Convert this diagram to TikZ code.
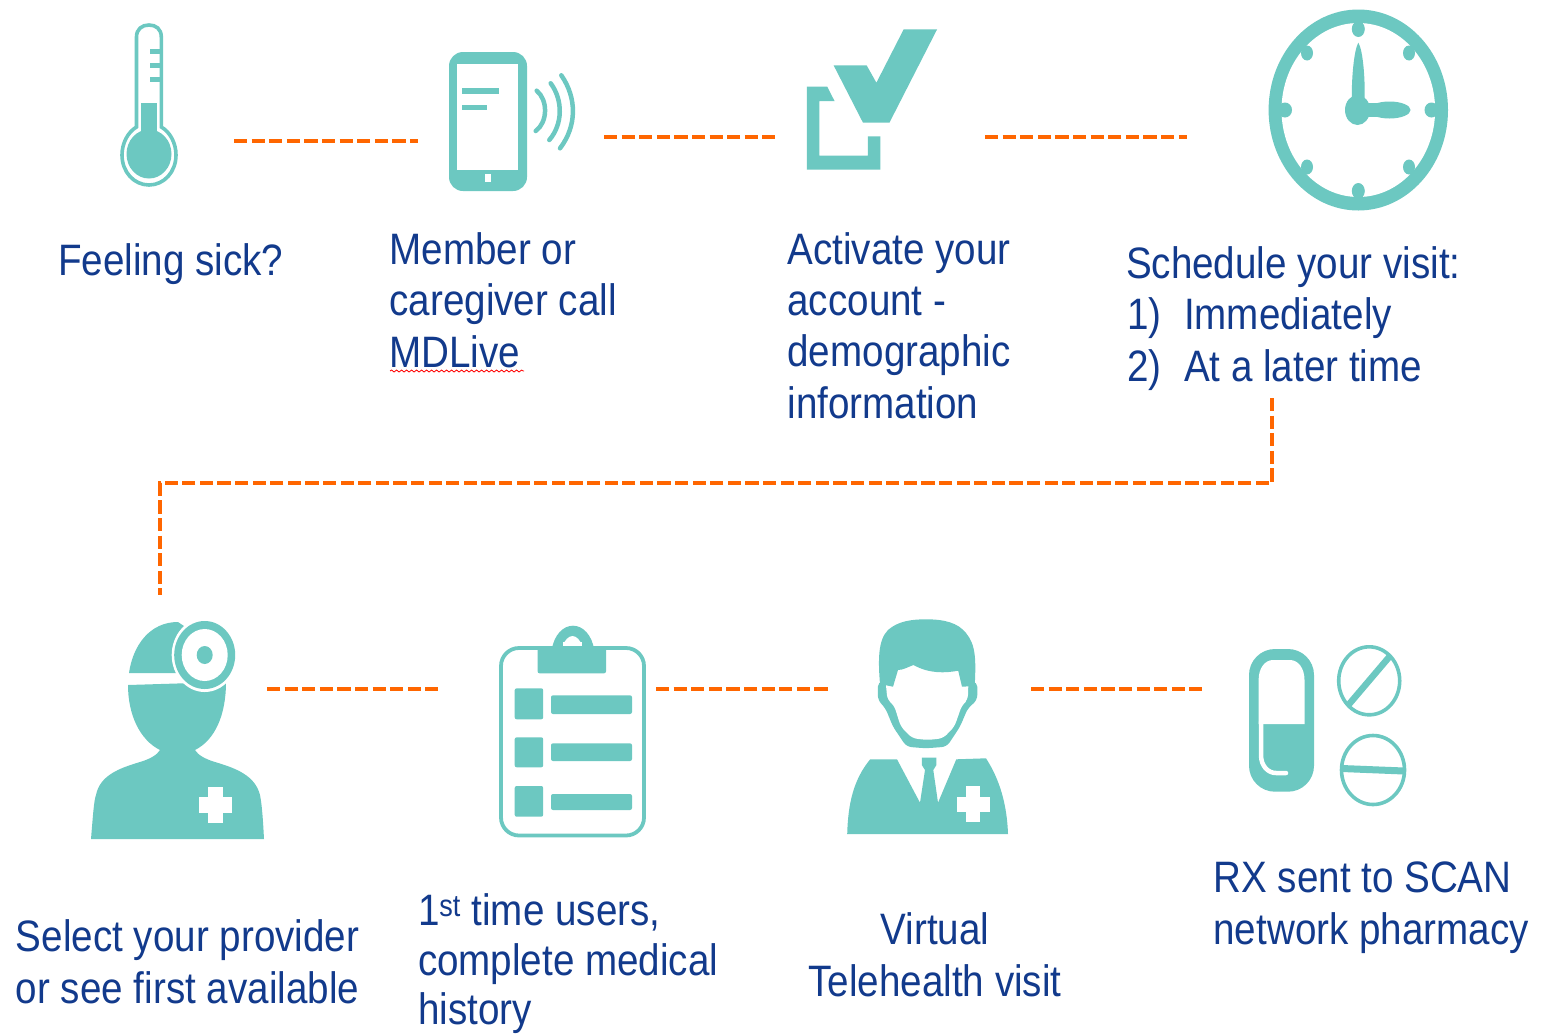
\documentclass[tikz,border=0pt]{standalone}
\usepackage{fontspec}
\setmainfont[FakeStretch=0.877]{Liberation Sans}
\usetikzlibrary{decorations.pathmorphing}
\definecolor{tealic}{HTML}{6CC8C1}
\definecolor{orangeln}{HTML}{FF6600}
\definecolor{bluetx}{HTML}{123A8C}
\tikzset{
  link/.style={draw=orangeln,line width=4.8pt,dash pattern=on 13.2pt off 4.4pt},
  label/.style={anchor=base west,inner sep=0pt,outer sep=0pt,text=bluetx,align=left,font=\fontsize{44}{51.2}\selectfont},
  labelc/.style={label,anchor=base,align=center},
  ic/.style={fill=tealic,draw=none},
  icl/.style={draw=tealic,fill=none},
  wh/.style={fill=white,draw=none}
}
\begin{document}
\begin{tikzpicture}[x=1pt,y=-1pt]
\useasboundingbox[fill=white] (0,0) rectangle (1541,1034);
% connector ends
\coordinate (a1) at (234,141); \coordinate (a2) at (418,141);
\coordinate (b1) at (604,137); \coordinate (b2) at (775,137);
\coordinate (c1) at (985,137); \coordinate (c2) at (1187,137);
\coordinate (d1) at (1272,398); \coordinate (d2) at (1272,483); \coordinate (d3) at (160,483); \coordinate (d4) at (160,595);
\coordinate (e1) at (267,689); \coordinate (e2) at (438,689);
\coordinate (f1) at (656,689); \coordinate (f2) at (828,689);
\coordinate (g1) at (1031,689); \coordinate (g2) at (1202,689);
\path[link] (a1) -- (a2);
\path[link] (b1) -- (b2);
\path[link] (c1) -- (c2);
\path[link] (d1) -- (d2) -- (d3) -- (d4);
\path[link] (e1) -- (e2);
\path[link] (f1) -- (f2);
\path[link] (g1) -- (g2);
% thermometer
\draw[draw=tealic,line width=3.6pt,fill=white] (136.5,127) -- (136.5,37) .. controls (136.5,29) and (142,25) .. (149,25) .. controls (156,25) and (161.3,29) .. (161.3,37) -- (161.3,127) .. controls (170,132) and (176,143) .. (176,155) .. controls (176,172) and (164,185) .. (149,185) .. controls (134,185) and (122,172) .. (122,155) .. controls (122,143) and (128,132) .. (136.5,127) -- cycle;
\fill[ic] (140.5,103) rectangle (156.7,135);
\fill[ic] (149,154) ellipse (22.5 and 24.5);
\foreach \yy in {51,65,79}{\fill[ic] (150,\yy-2.5) rectangle (160,\yy+2.5);}
% phone
\fill[ic,rounded corners=14pt] (449,52) rectangle (527,191);
\fill[wh] (457,64) rectangle (518,170);
\fill[ic] (462,88) rectangle (499,94);
\fill[ic] (462,105) rectangle (487,110);
\fill[wh] (485,174) rectangle (491,182);
\draw[icl,line width=4.5pt,line cap=round] (536.7,90.7) .. controls (548,100) and (548,122) .. (535.7,131);
\draw[icl,line width=4.5pt,line cap=round] (550.7,83.3) .. controls (563,100) and (563,124) .. (549.3,140);
\draw[icl,line width=4.5pt,line cap=round] (561.3,75.3) .. controls (577,98) and (577,126) .. (560,148.3);
% check box
\fill[ic] (903.7,29.3) -- (937.1,29.3) -- (889.4,122.7) -- (863,122.7) -- (833.6,65.3) -- (866.6,65.3) -- (876.4,82.7) -- cycle;
\fill[ic] (806.8,86.7) -- (827.3,86.7) -- (834.5,101) -- (819.3,101) -- (819.3,155.7) -- (867.9,155.7) -- (867.9,136.3) -- (880.4,136.3) -- (880.4,169.7) -- (806.8,169.7) -- cycle;
% clock
\fill[ic] (1358.3,110) ellipse (89.7 and 100.5);
\fill[wh] (1358.3,110) ellipse (76.8 and 87);
\fill[ic] (1358.3,29) ellipse (6.5 and 8);
\fill[ic] (1358.3,191) ellipse (6.5 and 8);
\fill[ic] (1285,110) ellipse (7 and 7.5);
\fill[ic] (1431.5,110) ellipse (7 and 7.5);
\foreach \xx/\yy/\ax/\ay in {1307/53/1299/40,1409/53/1417/40,1307/167/1299/180,1409/167/1417/180}{
  \draw[icl,line width=5pt] (\xx,\yy) -- (\ax,\ay);
  \fill[ic] (\xx,\yy) ellipse (6 and 7.5);}
\fill[ic] (1358.3,42.7) .. controls (1354,50) and (1351,80) .. (1352,105) -- (1364.5,105) .. controls (1365.5,80) and (1363,50) .. (1358.3,42.7) -- cycle;
\fill[ic] (1357.5,110) ellipse (12.5 and 15);
\fill[ic] (1389.5,110) ellipse (21 and 8.5);
\fill[ic] (1365,103) rectangle (1380,117);
% doctor
\fill[ic] (91,839) .. controls (93,815) and (94,800) .. (96,795) .. controls (100,775) and (120,768) .. (140,762) .. controls (150,759) and (157,755) .. (160,750) .. controls (140,740) and (128,715) .. (128,685) -- (226,682) .. controls (226,715) and (215,740) .. (195,750) .. controls (198,755) and (205,759) .. (215,762) .. controls (235,768) and (255,775) .. (260,795) .. controls (262,805) and (263,820) .. (264,839) -- cycle;
\fill[ic] (129,673) .. controls (133,645) and (150,622) .. (178,622) -- (205,640) -- (190,673) -- cycle;
\fill[wh] (204.7,655) ellipse (33 and 37);
\fill[ic] (204.7,655) ellipse (30.5 and 34);
\fill[wh] (204.7,655) ellipse (23 and 26);
\fill[ic] (204.7,655) ellipse (8 and 9);
\fill[wh] (199,796.7) rectangle (232.4,812.7);
\fill[wh] (208.4,786.7) rectangle (223.2,823.3);
% clipboard
\draw[icl,line width=3.8pt,rounded corners=18pt] (501,648) rectangle (644,835.5);
\fill[ic] (551.7,650) .. controls (554,635) and (563,625.7) .. (573,625.7) .. controls (583,625.7) and (592,635) .. (594.2,650) -- cycle;
\fill[wh] (562.8,646.7) .. controls (564,640) and (569,636) .. (572.5,636) .. controls (576,636) and (581,640) .. (582,646.7) -- cycle;
\fill[ic,rounded corners=2pt] (537.6,646) rectangle (606,673.3);
\fill[wh] (562.8,642) rectangle (582,646);
\foreach \ya/\yb in {688.3/719.3,737.3/767.3,786/816.7}{\fill[ic,rounded corners=2pt] (514.7,\ya) rectangle (543.2,\yb);}
\foreach \ya/\yb in {695.3/714,743.3/761,794/810}{\fill[ic,rounded corners=2pt] (551,\ya) rectangle (632,\yb);}
% physician
\fill[ic,rounded corners=5pt] (877.8,681.7) -- (877.8,700) -- (885.5,708.3) -- (893,726.7) -- (906.5,746.7) -- (925.7,748.3) -- (946.7,746.7) -- (960,726.7) -- (967.8,708.3) -- (977.3,700) -- (977.3,681.7) -- cycle;
\fill[wh,rounded corners=5pt] (885.5,680) -- (887.4,700) -- (894,705) -- (900.8,726.7) -- (912.3,738.3) -- (927.6,740) -- (943,738.3) -- (954.4,726.7) -- (962,705) -- (967.8,700) -- (968.5,680) -- cycle;
\fill[ic] (880,684) .. controls (878,660) and (878,640) .. (888,630) .. controls (898,621) and (912,619.3) .. (926,619.3) .. controls (945,619.3) and (958,623) .. (966,633) .. controls (976,645) and (976,660) .. (974.7,686) -- (962,686.7) -- (958.2,670.7) .. controls (945,673) and (930,674) .. (913.4,665) .. controls (908,667) and (903,670) .. (898,670) -- (893,686.7) -- cycle;
\fill[ic] (847.2,834) .. controls (848,805) and (853,780) .. (870.2,759.3) -- (897,759.3) -- (920,802.7) -- (925,770) -- (921.8,765) -- (921.8,757.7) -- (936.4,757.7) -- (936.4,765) -- (933.3,770) -- (938,802.7) -- (956.3,759.3) -- (986,758.3) .. controls (1000,780) and (1007,805) .. (1008,834) -- cycle;
\fill[wh] (957,796.7) rectangle (990,811.7);
\fill[wh] (966.2,786) rectangle (980.4,822.3);
% capsule and pills
\fill[ic,rounded corners=26pt] (1249,649) rectangle (1314,791.7);
\fill[wh] (1258.6,724) -- (1258.6,680) .. controls (1258.6,668) and (1265,660) .. (1273,660) -- (1290,660) .. controls (1298,660) and (1304.5,668) .. (1304.5,680) -- (1304.5,724) -- cycle;
\draw[draw=white,line width=4.5pt,line cap=round] (1261,722) -- (1261,755) .. controls (1261,766) and (1268,773) .. (1276,773) -- (1286,773);
\draw[icl,line width=3.6pt] (1369.2,680.8) ellipse (30.5 and 34);
\draw[icl,line width=6.5pt] (1347.5,706) -- (1390,656);
\draw[icl,line width=3.6pt] (1373,770) ellipse (31.5 and 34.5);
\draw[icl,line width=7pt] (1342,768.5) -- (1404,771);
% texts
\node[label] (t1) at (58,275) {Feeling sick?};
\node[label] (t2) at (389.5,367) {Member or\\caregiver call\\MDLive};
\node[label] (t3) at (787.5,418) {Activate your\\account -\\demographic\\information};
\node[label] (t4) at (1126,278) {Schedule your visit:};
\node[label] (t4a) at (1127,329) {1)};
\node[label] (t4b) at (1184,329) {Immediately};
\node[label] (t4c) at (1127,381) {2)};
\node[label] (t4d) at (1184,381) {At a later time};
\node[label] (t5) at (16,1003) {Select your provider\\or see first available};
\node[label] (t6) at (418,1024.5) {1\textsuperscript{st} time users,\\[-1.7pt]complete medical\\[-1.7pt]history};
\node[labelc] (t7) at (935,996) {Virtual\\Telehealth visit};
\node[label] (t8) at (1213.5,944) {RX sent to SCAN\\network pharmacy};
\coordinate (s1) at (390,371); \coordinate (s2) at (524,371);
\draw[red,line width=0.8pt,decorate,decoration={snake,amplitude=1pt,segment length=5pt}] (s1) -- (s2);
\end{tikzpicture}
\end{document}
